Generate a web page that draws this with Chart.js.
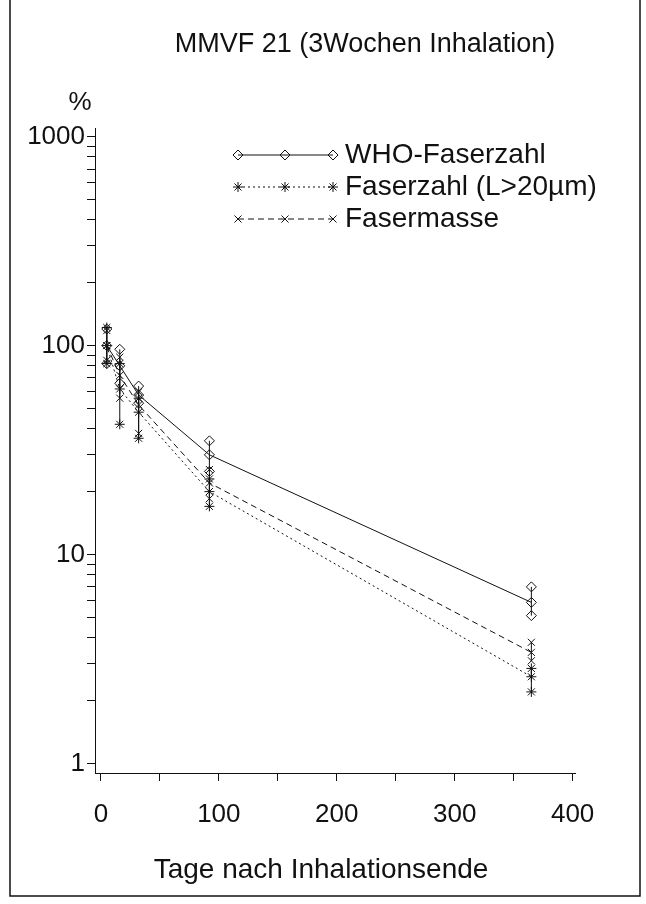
<!DOCTYPE html>
<html>
<head>
<meta charset="utf-8">
<title>MMVF 21 (3Wochen Inhalation)</title>
<script src="https://cdn.jsdelivr.net/npm/chart.js@4.4.1/dist/chart.umd.min.js"></script>
<style>
  html, body { margin: 0; padding: 0; background: #fff; }
  canvas { display: block; }
</style>
</head>
<body>
<canvas id="retentionChart" width="646" height="904"></canvas>
<script>
// Tage nach Inhalationsende
const days = [5, 16, 32, 92, 365];

// WHO-Faserzahl (Mittelwert, obere / untere Streuung)
const whoMean = [100, 80, 58, 30, 5.9];
const whoUpper = [120, 96, 64, 35, 7.0];
const whoLower = [82, 66, 53, 25, 5.1];

// Faserzahl (L>20µm)
const langMean = [100, 62, 48, 20, 2.6];
const langUpper = [122, 82, 56, 23, 2.85];
const langLower = [82, 42, 36, 17, 2.2];

// Fasermasse
const masseMean = [100, 72, 52, 22, 3.4];
const masseUpper = [118, 88, 60, 25.5, 3.8];
const masseLower = [85, 56, 38, 18.5, 3.1];

const xTickLabels = [0, 100, 200, 300, 400];
const yTickLabels = [1, 10, 100, 1000];

const ink = '#111';
const font = '"Liberation Sans", Arial, sans-serif';

const series = [
    { name: 'WHO-Faserzahl', mean: whoMean, upper: whoUpper, lower: whoLower, marker: 'rectRot', dash: [] },
    { name: 'Faserzahl (L>20µm)', mean: langMean, upper: langUpper, lower: langLower, marker: 'star', dash: [2, 3] },
    { name: 'Fasermasse', mean: masseMean, upper: masseUpper, lower: masseLower, marker: 'crossRot', dash: [6, 4] },
];

const pts = values => days.map((d, i) => ({ x: d, y: values[i] }));

const datasets = [];
series.forEach(s => {
    datasets.push({
        label: s.name,
        data: pts(s.mean),
        borderColor: ink,
        borderWidth: 1,
        borderDash: s.dash,
        pointStyle: s.marker,
        pointRadius: 5,
        pointBorderColor: ink,
        pointBackgroundColor: 'rgba(0,0,0,0)',
        pointBorderWidth: 1,
        tension: 0
    });
    [s.upper, s.lower].forEach(bound => {
        datasets.push({
            label: s.name + ' bound',
            data: pts(bound),
            showLine: false,
            pointStyle: s.marker,
            pointRadius: 5,
            pointBorderColor: ink,
            pointBackgroundColor: 'rgba(0,0,0,0)',
            pointBorderWidth: 1
        });
    });
});

function stretchText(ctx, text, x, y, sx, align) {
    ctx.save();
    ctx.translate(x, y);
    ctx.scale(sx, 1);
    ctx.textAlign = align;
    ctx.textBaseline = 'middle';
    ctx.fillText(text, 0, 0);
    ctx.restore();
}

const decor = {
    id: 'decor',
    beforeDatasetsDraw(chart) {
        // vertical error bars
        const { ctx, scales: { x, y } } = chart;
        ctx.save();
        ctx.strokeStyle = ink;
        ctx.lineWidth = 1;
        series.forEach(s => {
            days.forEach((d, i) => {
                const px = x.getPixelForValue(d);
                ctx.beginPath();
                ctx.moveTo(px, y.getPixelForValue(s.upper[i]));
                ctx.lineTo(px, y.getPixelForValue(s.lower[i]));
                ctx.stroke();
            });
        });
        ctx.restore();
    },
    afterDraw(chart) {
        const ctx = chart.ctx;
        ctx.save();
        ctx.fillStyle = ink;
        ctx.font = '27px ' + font;
        stretchText(ctx, 'MMVF 21 (3Wochen Inhalation)', 365, 45, 1, 'center');
        ctx.font = '26px ' + font;
        stretchText(ctx, '%', 80, 103, 1, 'center');
        ctx.font = '28px ' + font;
        stretchText(ctx, 'Tage nach Inhalationsende', 321, 870, 1, 'center');

        // legend: line with three markers
        series.forEach((s, i) => {
            const ly = 155 + i * 32;
            ctx.save();
            ctx.strokeStyle = ink;
            ctx.fillStyle = 'rgba(0,0,0,0)';
            ctx.lineWidth = 1;
            ctx.setLineDash(s.dash);
            ctx.beginPath();
            ctx.moveTo(238, ly);
            ctx.lineTo(333, ly);
            ctx.stroke();
            ctx.setLineDash([]);
            [238, 285, 333].forEach(mx => {
                Chart.helpers.drawPoint(ctx, { pointStyle: s.marker, radius: 5, borderWidth: 1 }, mx, ly);
            });
            ctx.restore();
            ctx.font = '28px ' + font;
            stretchText(ctx, s.name, 345, ly, 1, 'left');
        });

        // frame
        ctx.strokeStyle = ink;
        ctx.lineWidth = 1.5;
        ctx.beginPath();
        ctx.moveTo(10, 0);
        ctx.lineTo(10, 896);
        ctx.lineTo(640, 896);
        ctx.lineTo(640, 0);
        ctx.stroke();
        ctx.restore();
    }
};

Chart.defaults.font.family = font;
Chart.defaults.color = ink;

new Chart(document.getElementById('retentionChart'), {
    type: 'line',
    data: { datasets: datasets },
    options: {
        responsive: false,
        animation: false,
        layout: { padding: { top: 128, left: 0, right: 71, bottom: 0 } },
        plugins: { legend: { display: false }, tooltip: { enabled: false } },
        scales: {
            x: {
                type: 'linear',
                min: -5,
                max: 402,
                afterFit: scale => { scale.height = 131; },
                afterBuildTicks: scale => {
                    const t = [];
                    for (let v = 0; v <= 400; v += 50) t.push({ value: v });
                    scale.ticks = t;
                },
                ticks: {
                    autoSkip: false,
                    maxRotation: 0,
                    padding: 18,
                    font: { size: 26 },
                    color: ink,
                    callback: v => xTickLabels.includes(v) ? String(v) : ''
                },
                grid: { drawOnChartArea: false, tickLength: 8, color: ink },
                border: { display: true, color: ink, width: 1 }
            },
            y: {
                type: 'logarithmic',
                min: 0.9,
                max: 1100,
                afterFit: scale => { scale.width = 95; },
                afterBuildTicks: scale => {
                    const t = [];
                    [1, 10, 100].forEach(dec => {
                        for (let k = 1; k < 10; k++) t.push({ value: dec * k });
                    });
                    t.push({ value: 1000 });
                    scale.ticks = t;
                },
                ticks: {
                    autoSkip: false,
                    padding: 2,
                    font: { size: 26 },
                    color: ink,
                    callback: v => yTickLabels.includes(v) ? String(v) : ''
                },
                grid: { drawOnChartArea: false, tickLength: 8, color: ink },
                border: { display: true, color: ink, width: 1 }
            }
        }
    },
    plugins: [decor]
});
</script>
</body>
</html>
